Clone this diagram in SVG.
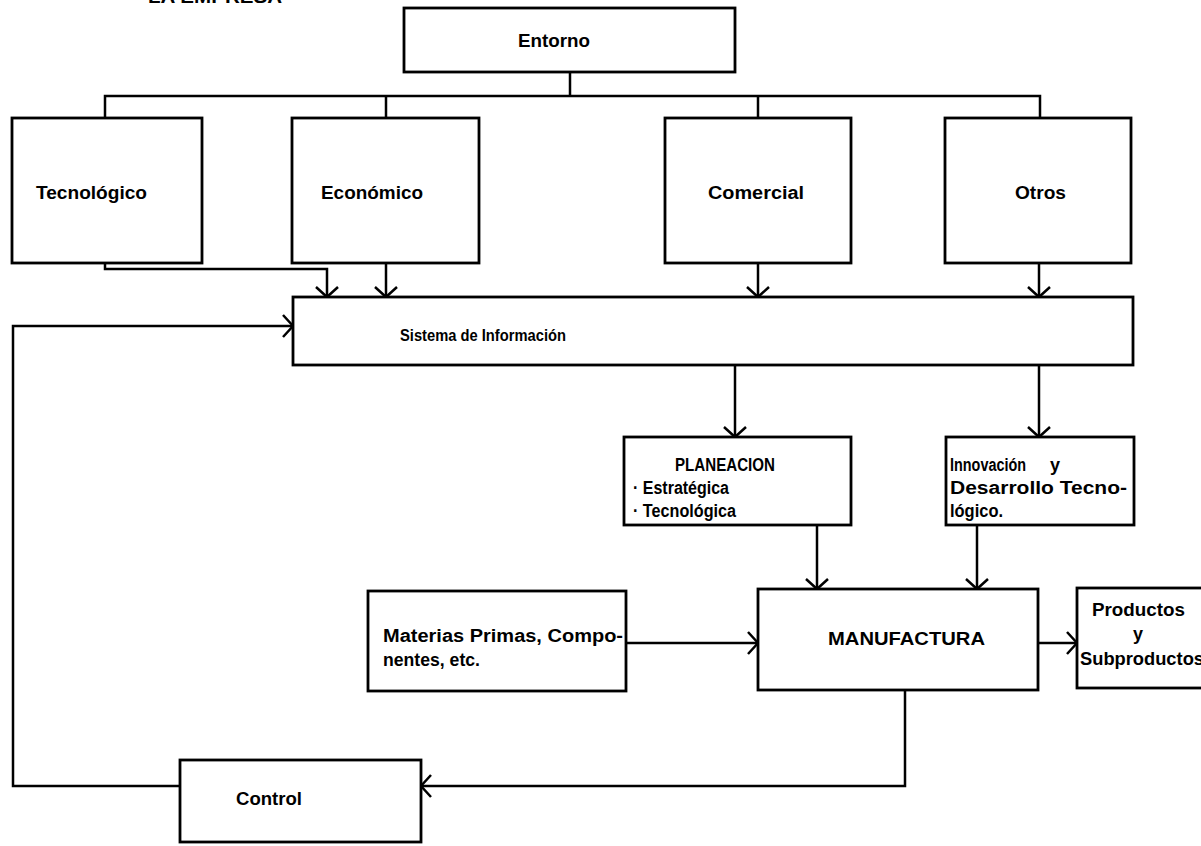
<svg xmlns="http://www.w3.org/2000/svg" width="1201" height="846" viewBox="0 0 1201 846">
  <style>
    .box { fill: #fff; stroke: #000; stroke-width: 2.8; }
    .ln { fill: none; stroke: #000; stroke-width: 2.5; stroke-linejoin: miter; }
    .arr { marker-end: url(#head); }
    text { font-family: "Liberation Sans", Arial, Helvetica, sans-serif; font-weight: bold; font-size: 18px; fill: #000; }
    .md { font-size: 17px; }
  </style>
  <defs>
    <marker id="head" markerUnits="userSpaceOnUse" viewBox="-13 -13 15 26" refX="0" refY="0" markerWidth="15" markerHeight="26" orient="auto" overflow="visible">
      <path d="M-10,-11 L0,0 L-10,11" fill="none" stroke="#000" stroke-width="2.5"/>
    </marker>
  </defs>
  <rect width="1201" height="846" fill="#fff"/>

  <!-- heading, partly cut by the page edge -->
  <text x="148" y="3" textLength="134" lengthAdjust="spacingAndGlyphs">LA EMPRESA</text>

  <!-- connectors -->
  <g id="connectors">
    <!-- Entorno distribution tree -->
    <path class="ln" d="M570,72 V96"/>
    <path class="ln" d="M105,118 V96 H1040 V118"/>
    <path class="ln" d="M386,96 V118"/>
    <path class="ln" d="M758,96 V118"/>
    <!-- factors into the information system -->
    <path class="ln arr" d="M105,263 V269 H327 V297"/>
    <path class="ln arr" d="M386,263 V297"/>
    <path class="ln arr" d="M758,263 V297"/>
    <path class="ln arr" d="M1039,263 V297"/>
    <!-- information system outputs -->
    <path class="ln arr" d="M735,365 V437"/>
    <path class="ln arr" d="M1039,365 V437"/>
    <!-- into manufacturing -->
    <path class="ln arr" d="M817,525 V589"/>
    <path class="ln arr" d="M977,525 V589"/>
    <path class="ln arr" d="M626,643 H758"/>
    <path class="ln arr" d="M1038,643 H1077"/>
    <!-- feedback loop through control -->
    <path class="ln arr" d="M905,690 V786 H421"/>
    <path class="ln arr" d="M180,786 H13 V326 H293"/>
  </g>

  <g id="entorno">
    <rect class="box" x="404" y="8" width="331" height="64"/>
    <text x="518" y="47" textLength="72" lengthAdjust="spacingAndGlyphs">Entorno</text>
  </g>
  <g id="tecnologico">
    <rect class="box" x="12" y="118" width="190" height="145"/>
    <text x="36" y="199" textLength="111" lengthAdjust="spacingAndGlyphs">Tecnológico</text>
  </g>
  <g id="economico">
    <rect class="box" x="292" y="118" width="187" height="145"/>
    <text x="321" y="199" textLength="102" lengthAdjust="spacingAndGlyphs">Económico</text>
  </g>
  <g id="comercial">
    <rect class="box" x="665" y="118" width="186" height="145"/>
    <text x="708" y="199" textLength="96" lengthAdjust="spacingAndGlyphs">Comercial</text>
  </g>
  <g id="otros">
    <rect class="box" x="945" y="118" width="186" height="145"/>
    <text x="1015" y="199" textLength="51" lengthAdjust="spacingAndGlyphs">Otros</text>
  </g>
  <g id="sistema">
    <rect class="box" x="293" y="297" width="840" height="68"/>
    <text class="md" x="400" y="341" textLength="166" lengthAdjust="spacingAndGlyphs">Sistema de Información</text>
  </g>
  <g id="planeacion">
    <rect class="box" x="624" y="437" width="227" height="88"/>
    <text x="675" y="471" textLength="100" lengthAdjust="spacingAndGlyphs">PLANEACION</text>
    <text x="633" y="494" textLength="96" lengthAdjust="spacingAndGlyphs">· Estratégica</text>
    <text x="633" y="517" textLength="103" lengthAdjust="spacingAndGlyphs">· Tecnológica</text>
  </g>
  <g id="innovacion">
    <rect class="box" x="946" y="437" width="188" height="88"/>
    <text x="950" y="471" textLength="76" lengthAdjust="spacingAndGlyphs">Innovación</text>
    <text x="1050" y="471">y</text>
    <text x="950" y="494" textLength="177" lengthAdjust="spacingAndGlyphs">Desarrollo Tecno-</text>
    <text x="950" y="517" textLength="53" lengthAdjust="spacingAndGlyphs">lógico.</text>
  </g>
  <g id="materias">
    <rect class="box" x="368" y="591" width="258" height="100"/>
    <text x="383" y="642" textLength="240" lengthAdjust="spacingAndGlyphs">Materias Primas, Compo-</text>
    <text x="383" y="666" textLength="97" lengthAdjust="spacingAndGlyphs">nentes, etc.</text>
  </g>
  <g id="manufactura">
    <rect class="box" x="758" y="589" width="280" height="101"/>
    <text x="828" y="645" textLength="157" lengthAdjust="spacingAndGlyphs">MANUFACTURA</text>
  </g>
  <g id="productos">
    <rect class="box" x="1077" y="588" width="130" height="100"/>
    <text x="1092" y="616" textLength="93" lengthAdjust="spacingAndGlyphs">Productos</text>
    <text x="1133" y="640">y</text>
    <text x="1080" y="665" textLength="124" lengthAdjust="spacingAndGlyphs">Subproductos</text>
  </g>
  <g id="control">
    <rect class="box" x="180" y="760" width="241" height="82"/>
    <text x="236" y="805" textLength="66" lengthAdjust="spacingAndGlyphs">Control</text>
  </g>
</svg>
